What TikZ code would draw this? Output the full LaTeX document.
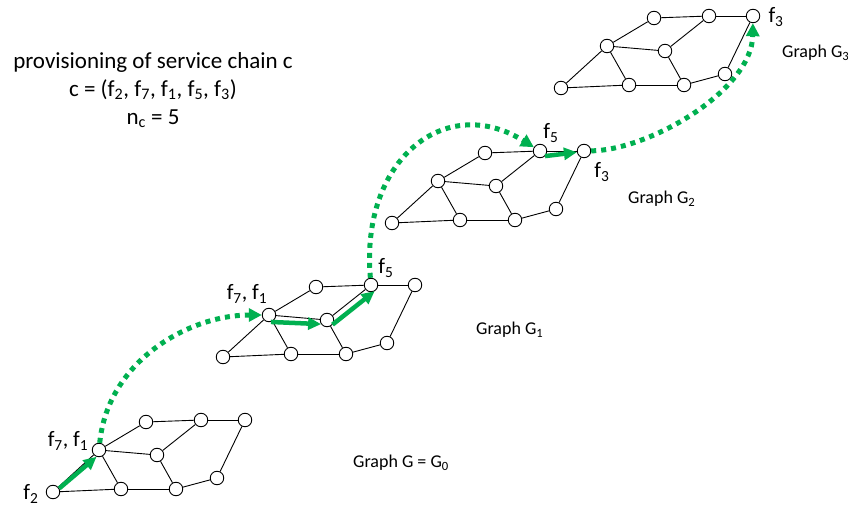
\documentclass[tikz,border=0pt]{standalone}
\usepackage{fontspec}
\setmainfont{Carlito}
\usetikzlibrary{arrows.meta}
\definecolor{ggreen}{RGB}{0,176,80}
\newcommand\sbs[1]{\textsubscript{#1}}
\tikzset{
  vtx/.style={circle,draw=black,fill=white,line width=0.9pt,minimum size=13.5pt,inner sep=0pt},
  edge/.style={draw=black,line width=0.9pt},
  garrow/.style={draw=ggreen,line width=4.5pt,-{Triangle[length=13pt,width=12pt]}},
  gdots/.style={draw=ggreen,line width=5pt,dash pattern=on 5pt off 5pt,-{Triangle[length=13pt,width=13pt]}},
  flabel/.style={font=\fontsize{22}{26}\selectfont,inner sep=0pt},
  glabel/.style={font=\fontsize{18}{22}\selectfont,inner sep=0pt,anchor=west},
}
\newcommand\mkgraph[3]{%
  \begin{scope}[shift={(#2,#3)}]
    \node[vtx] (#1a) at (53,492) {};
    \node[vtx] (#1b) at (99,450) {};
    \node[vtx] (#1c) at (146,422) {};
    \node[vtx] (#1d) at (201,420) {};
    \node[vtx] (#1e) at (245,420) {};
    \node[vtx] (#1f) at (157,455) {};
    \node[vtx] (#1g) at (121,489) {};
    \node[vtx] (#1h) at (176,489) {};
    \node[vtx] (#1i) at (217,478) {};
    \draw[edge] (#1a) -- (#1b);
    \draw[edge] (#1a) -- (#1g);
    \draw[edge] (#1b) -- (#1c);
    \draw[edge] (#1b) -- (#1f);
    \draw[edge] (#1b) -- (#1g);
    \draw[edge] (#1c) -- (#1d);
    \draw[edge] (#1d) -- (#1e);
    \draw[edge] (#1d) -- (#1f);
    \draw[edge] (#1f) -- (#1h);
    \draw[edge] (#1g) -- (#1h);
    \draw[edge] (#1h) -- (#1i);
    \draw[edge] (#1i) -- (#1e);
  \end{scope}}
\begin{document}
\begin{tikzpicture}[x=1pt,y=-1pt]
\useasboundingbox[fill=white] (0,0) rectangle (848,513);

\mkgraph{g0}{0}{0}
\mkgraph{g1}{170}{-135}
\mkgraph{g2}{339}{-269}
\mkgraph{g3}{508}{-404}

% solid green arrows
\draw[garrow] (g0a.30) -- (g0b.250);
\draw[garrow] (g1b.285) -- (g1f.215);
\draw[garrow] (g1f.-40) -- (g1d.-60);
\draw[garrow] (g2d.-45) -- (g2e.190);

% dotted green curves
\draw[gdots] (g0b) .. controls (108,360) and (190,315) .. (g1b);
\draw[gdots] (g1d) .. controls (360,160) and (445,92) .. (g2d);
\draw[gdots] (g2e) .. controls (650,150) and (752,90) .. (g3e);

% text block
\node[font=\fontsize{23}{28}\selectfont,align=center,inner sep=0pt,anchor=north] (title) at (153,52)
  {provisioning of service chain c\\ c = (f\sbs{2}, f\sbs{7}, f\sbs{1}, f\sbs{5}, f\sbs{3})\\ n\sbs{c} = 5};

% function labels
\node[flabel] (l0a) at (31,494) {f\sbs{2}};
\node[flabel] (l0b) at (68,441) {f\sbs{7}, f\sbs{1}};
\node[flabel] (l1b) at (247,294) {f\sbs{7}, f\sbs{1}};
\node[flabel] (l1d) at (386,268) {f\sbs{5}};
\node[flabel] (l2d) at (551,133) {f\sbs{5}};
\node[flabel] (l2e) at (602,172) {f\sbs{3}};
\node[flabel] (l3e) at (776,17) {f\sbs{3}};

% graph labels
\node[glabel] (n0) at (353,463) {Graph G = G\sbs{0}};
\node[glabel] (n1) at (476,330) {Graph G\sbs{1}};
\node[glabel] (n2) at (628,199) {Graph G\sbs{2}};
\node[glabel] (n3) at (782,53) {Graph G\sbs{3}};
\end{tikzpicture}
\end{document}
